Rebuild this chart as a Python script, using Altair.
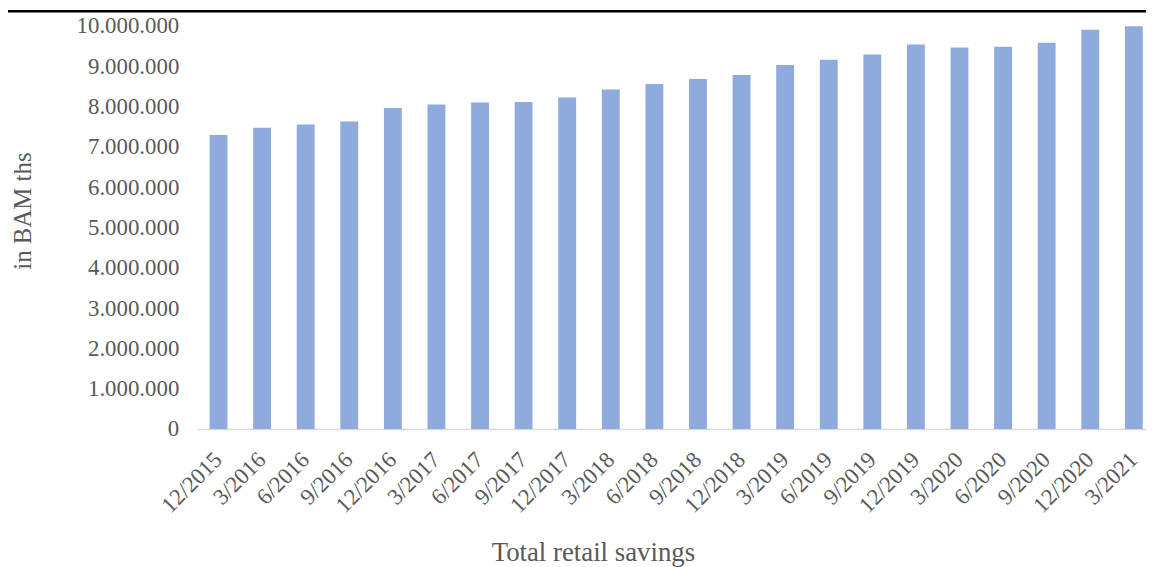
import altair as alt
import pandas as pd

periods = ["12/2015", "3/2016", "6/2016", "9/2016", "12/2016", "3/2017", "6/2017",
           "9/2017", "12/2017", "3/2018", "6/2018", "9/2018", "12/2018", "3/2019",
           "6/2019", "9/2019", "12/2019", "3/2020", "6/2020", "9/2020", "12/2020", "3/2021"]
savings = [7290000, 7470000, 7550000, 7630000, 7960000, 8050000, 8100000,
           8110000, 8220000, 8420000, 8560000, 8680000, 8780000, 9030000,
           9160000, 9290000, 9540000, 9460000, 9480000, 9580000, 9900000, 9990000]
y_ticks = list(range(0, 10000001, 1000000))

df = pd.DataFrame({"period": periods, "value": savings})

W, H = 956, 406
FONT = "Liberation Serif"
GREY = "#595959"

bars = alt.Chart(df).mark_bar(color="#8FAADC").encode(
    x=alt.X("period:N", sort=periods,
            scale=alt.Scale(paddingInner=0.59, paddingOuter=0.185, align=0.8, round=False),
            axis=alt.Axis(title="Total retail savings", labelAngle=-45, labelAlign="right",
                          labelBaseline="middle", labelPadding=27, ticks=False,
                          domainColor="#D9D9D9", domainWidth=1.5,
                          labelFont=FONT, labelFontSize=23, labelColor=GREY,
                          titleFont=FONT, titleFontSize=27, titleColor=GREY,
                          titleFontWeight="normal", titleX=399, titleY=132,
                          titleBaseline="alphabetic", titleAnchor="start", titleAlign="center")),
    y=alt.Y("value:Q", scale=alt.Scale(domain=[0, 10000000], nice=False),
            axis=alt.Axis(title="in BAM ths", values=y_ticks, grid=False, ticks=False,
                          domain=False, labelPadding=18,
                          labelExpr="replace(replace(format(datum.value, ','), ',', '.'), ',', '.')",
                          labelFont=FONT, labelFontSize=23, labelColor=GREY,
                          titleFont=FONT, titleFontSize=25, titleColor=GREY,
                          titleFontWeight="normal", titleX=-167, titleY=186,
                          titleAngle=-90, titleAlign="center", titleBaseline="alphabetic")),
)

band = alt.Chart(df.head(1)).mark_rect(color="#000000").encode(
    x=alt.value(-200), x2=alt.value(W + 20), y=alt.value(-16), y2=alt.value(-13.5)
)

chart = alt.layer(bars, band).properties(
    width=W, height=H,
    autosize=alt.AutoSizeParams(type="none"),
    padding={"left": 190, "top": 16, "right": 0, "bottom": 137},
).configure_view(stroke=None, clip=False)

chart.save("out.html", embed_options={"renderer": "svg", "actions": False})
